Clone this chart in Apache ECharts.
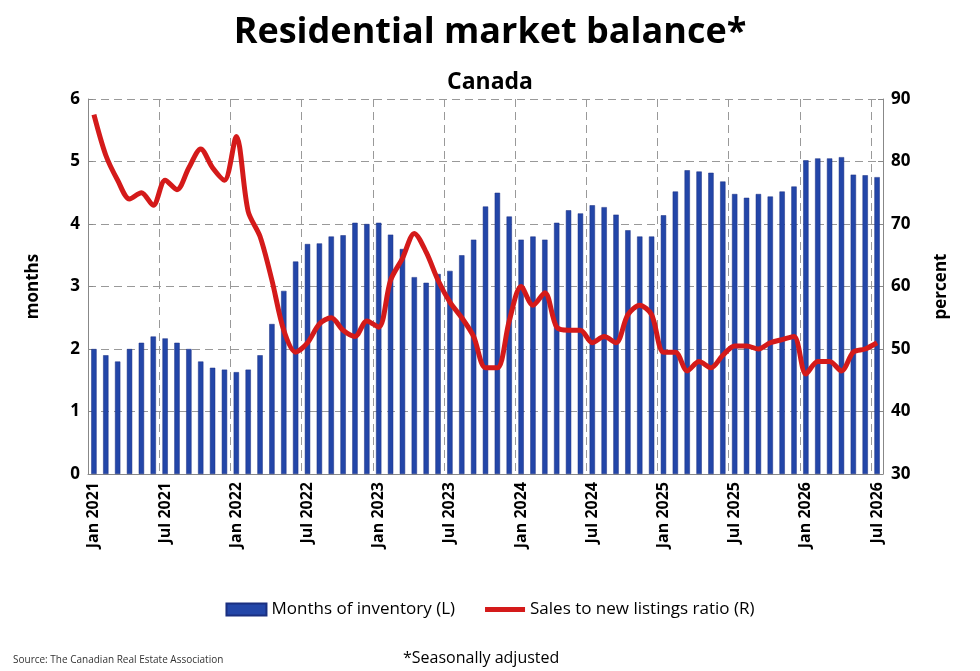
<!DOCTYPE html>
<html><head><meta charset="utf-8">
<script src="https://cdn.jsdelivr.net/npm/echarts@6/dist/echarts.min.js"></script>
<style>html,body{margin:0;padding:0;background:#fff}#container{width:980px;height:671px}</style>
</head><body><div id="container"></div>
<script>
var myChart = echarts.init(document.getElementById('container'), null, {renderer: 'canvas'});
var mon = ['Jan','Feb','Mar','Apr','May','Jun','Jul','Aug','Sep','Oct','Nov','Dec'];
var months = [];
for (var i = 0; i < 67; i++) months.push(mon[i % 12] + ' ' + (2021 + Math.floor(i / 12)));
var inventory = [
  2.0, 1.9, 1.8, 2.0, 2.1, 2.2, 2.17, 2.1, 2.0, 1.8, 1.7, 1.67,
  1.63, 1.67, 1.9, 2.4, 2.93, 3.4, 3.68, 3.69, 3.8, 3.82, 4.02, 4.0,
  4.02, 3.83, 3.6, 3.15, 3.06, 3.2, 3.25, 3.5, 3.75, 4.28, 4.5, 4.12,
  3.75, 3.8, 3.75, 4.02, 4.22, 4.17, 4.3, 4.27, 4.15, 3.9, 3.8, 3.8,
  4.14, 4.52, 4.86, 4.84, 4.82, 4.68, 4.48, 4.42, 4.48, 4.44, 4.52, 4.6,
  5.02, 5.05, 5.05, 5.07, 4.79, 4.78, 4.75
];
var snlr = [
  87.5, 81, 77, 74, 75, 73, 77, 75.5, 79, 82, 79, 77,
  84, 72, 68, 61, 53, 49.5, 51, 54, 55, 53, 52, 54.5,
  53.5, 61, 64.5, 68.5, 65.5, 61, 57.5, 55, 52, 47, 47, 54.5,
  60, 57, 59, 53.5, 53, 53, 51, 52, 51, 55.5, 57, 55.5,
  49.5, 49.5, 46.5, 48, 47, 49, 50.5, 50.5, 50, 51, 51.5, 52,
  46, 48, 48, 46.5, 49.5, 50, 51
];
var font = 'Open Sans';
var option = {
  textStyle: {fontFamily: font},
  title: [
    {text: 'Residential market balance*', left: 'center', top: 10, textStyle: {fontFamily: font, fontSize: 36, fontWeight: 'bold', color: '#000'}},
    {text: 'Canada', left: 'center', top: 66, textStyle: {fontFamily: font, fontSize: 23, fontWeight: 'bold', color: '#000'}},
    {text: 'Source: The Canadian Real Estate Association', left: 8, top: 650, textStyle: {fontFamily: font, fontSize: 10, fontWeight: 'normal', color: '#333'}},
    {text: '*Seasonally adjusted', left: 398, top: 645, textStyle: {fontFamily: font, fontSize: 16, fontWeight: 'normal', color: '#000'}}
  ],
  grid: {left: 88, right: 97, top: 99, bottom: 197},
  legend: {
    bottom: 48, left: 'center', itemGap: 30, itemWidth: 40, itemHeight: 12,
    textStyle: {fontFamily: font, fontSize: 17, color: '#000'},
    data: [
      {name: 'Months of inventory (L)', icon: 'rect'},
      {name: 'Sales to new listings ratio (R)', icon: 'path://M0,0L40,0L40,5L0,5Z'}
    ]
  },
  xAxis: {
    type: 'category', data: months,
    axisLine: {lineStyle: {color: '#888'}},
    axisTick: {show: false},
    axisLabel: {interval: function (i) { return i % 6 === 0; }, rotate: 90, fontSize: 16, fontWeight: 'bold', color: '#000', margin: 8},
    splitLine: {show: true, interval: function (i) { return i % 6 === 0 && i > 0; }, lineStyle: {type: [8, 5], color: '#999'}}
  },
  yAxis: [
    {type: 'value', name: 'months', nameLocation: 'middle', nameGap: 46, nameTextStyle: {fontSize: 17, fontWeight: 'bold', color: '#000'},
     min: 0, max: 6, interval: 1,
     axisLine: {show: true, lineStyle: {color: '#888'}}, axisTick: {show: true, inside: true},
     axisLabel: {fontSize: 17, fontWeight: 'bold', color: '#000'},
     splitLine: {lineStyle: {type: [8, 5], color: '#999'}}},
    {type: 'value', name: 'percent', nameLocation: 'middle', nameGap: 50, nameTextStyle: {fontSize: 17, fontWeight: 'bold', color: '#000'},
     min: 30, max: 90, interval: 10,
     axisLine: {show: true, lineStyle: {color: '#888'}}, axisTick: {show: true, inside: true},
     axisLabel: {fontSize: 17, fontWeight: 'bold', color: '#000'},
     splitLine: {show: false}}
  ],
  series: [
    {name: 'Months of inventory (L)', type: 'bar', data: inventory, barWidth: '45%',
     itemStyle: {color: '#2346a8', borderColor: '#1a2f80', borderWidth: 0.5}},
    {name: 'Sales to new listings ratio (R)', type: 'line', yAxisIndex: 1, data: snlr, smooth: 0.3,
     symbol: 'none', lineStyle: {color: '#d41a1a', width: 5}, itemStyle: {color: '#d41a1a'}}
  ]
};
myChart.setOption(option);
window.addEventListener('resize', myChart.resize);
</script></body></html>
